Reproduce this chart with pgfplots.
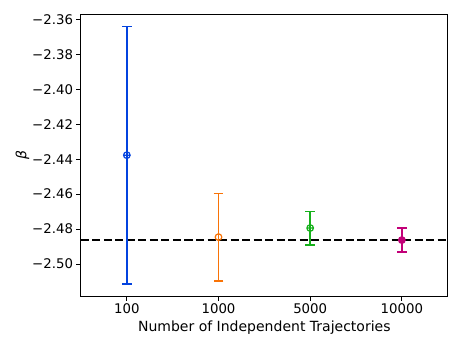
\documentclass[border=0pt]{standalone}
\usepackage{pgfplots}
\pgfplotsset{compat=1.18}
\usepackage{fontspec}
\setmainfont{DejaVu Sans}
\definecolor{xblue}{HTML}{0343DF}
\definecolor{xorange}{HTML}{F97306}
\definecolor{xgreen}{HTML}{15B01A}
\definecolor{xmagenta}{HTML}{C20078}

\begin{document}
\begin{tikzpicture}
\useasboundingbox (-81pt,-50pt) rectangle (380pt,296pt);
\begin{axis}[
  at={(0,0)}, anchor=south west,
  scale only axis, width=366.7pt, height=282pt,
  xmin=-0.5, xmax=3.5, ymin=-2.5183, ymax=-2.3569,
  xtick={0,1,2,3}, xticklabels={100,1000,5000,10000},
  ytick={-2.50,-2.48,-2.46,-2.44,-2.42,-2.40,-2.38,-2.36},
  yticklabels={−2.50,−2.48,−2.46,−2.44,−2.42,−2.40,−2.38,−2.36},
  tick label style={font=\fontsize{13.3}{15}\selectfont},
  label style={font=\fontsize{14}{16}\selectfont},
  xlabel={Number of Independent Trajectories},
  ylabel={\itshape β},
  xlabel style={yshift=0pt},
  ylabel style={yshift=-4pt},
  tick align=outside, tick pos=left,
  major tick length=4.5pt,
  axis line style={line width=1pt},
  every tick/.style={black, line width=1pt},
  clip=false,
]
\addplot[black, line width=2.2pt, dash pattern=on 8pt off 3.5pt]
  coordinates {(-0.5,-2.4863) (3.5,-2.4863)};

\addplot[xblue, line width=1.8pt, mark=oplus, mark size=3.3pt,
  mark options={line width=1.2pt},
  error bars/.cd, y dir=both, y explicit,
  error bar style={line width=1.8pt},
  error mark options={line width=1.8pt, mark size=4.8pt, rotate=90}]
  coordinates {(0,-2.4377) +- (0,0.0737)};
\addplot[xorange, line width=1.8pt, mark=o, mark size=3.3pt,
  mark options={line width=1.2pt},
  error bars/.cd, y dir=both, y explicit,
  error bar style={line width=1.8pt},
  error mark options={line width=1.8pt, mark size=4.8pt, rotate=90}]
  coordinates {(1,-2.4846) +- (0,0.0250)};
\addplot[xgreen, line width=1.8pt, mark=oplus, mark size=3.3pt,
  mark options={line width=1.2pt},
  error bars/.cd, y dir=both, y explicit,
  error bar style={line width=1.8pt},
  error mark options={line width=1.8pt, mark size=4.8pt, rotate=90}]
  coordinates {(2,-2.4794) +- (0,0.0095)};
\addplot[xmagenta, line width=1.8pt, mark=*, mark size=3.3pt,
  mark options={line width=1.2pt},
  error bars/.cd, y dir=both, y explicit,
  error bar style={line width=1.8pt},
  error mark options={line width=1.8pt, mark size=4.8pt, rotate=90}]
  coordinates {(3,-2.4863) +- (0,0.0067)};
\end{axis}
\end{tikzpicture}
\end{document}
